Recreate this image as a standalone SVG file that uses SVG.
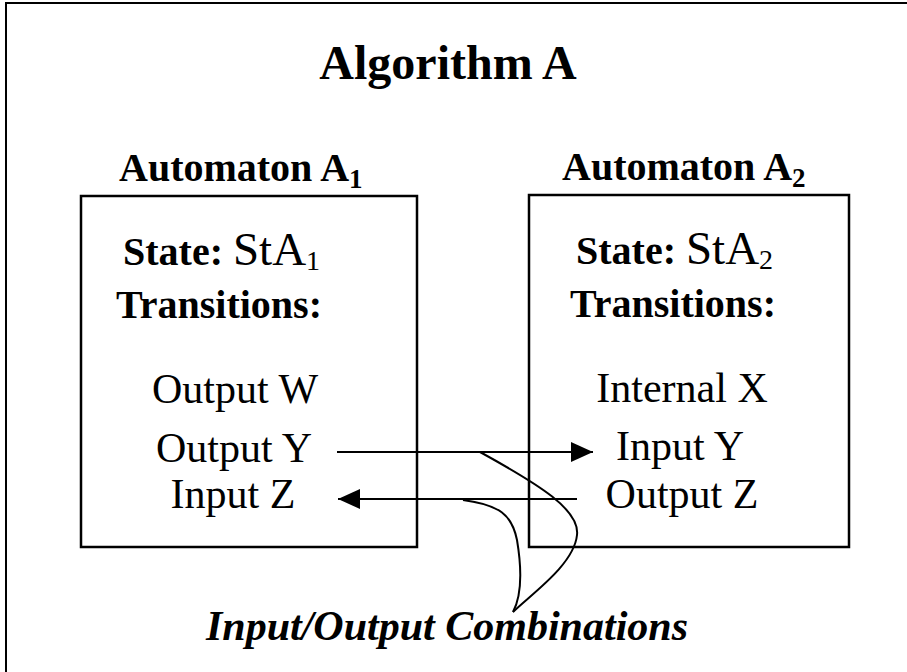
<svg xmlns="http://www.w3.org/2000/svg" width="907" height="672" viewBox="0 0 907 672">
<defs>
<style>
text{font-family:"Liberation Serif","Times New Roman",serif;fill:#000}
.t{font-size:42px;text-anchor:middle}
.lbl{font-size:40px;font-weight:bold}
.box{fill:#fff;stroke:#000;stroke-width:2.5}
.ln{fill:none;stroke:#000;stroke-width:2}
</style>
<marker id="ah" markerWidth="22" markerHeight="20" refX="22" refY="10" orient="auto" markerUnits="userSpaceOnUse">
<path d="M0,0 L22,10 L0,20 Z" fill="#000"/>
</marker>
</defs>
<rect width="907" height="672" fill="#fff"/>
<rect x="6" y="3" width="950" height="720" fill="none" stroke="#000" stroke-width="2"/>
<g id="title">
<text x="448" y="79" style="font-size:48px;font-weight:bold;text-anchor:middle">Algorithm A</text>
</g>
<g id="automatonA1">
<text x="119" y="181" style="font-size:40px;font-weight:bold">Automaton A<tspan dy="7" style="font-size:27px">1</tspan></text>
<rect class="box" x="81" y="196" width="336" height="351"/>
<text x="123" y="265" class="lbl">State: <tspan style="font-weight:normal;font-size:47px">StA</tspan><tspan dy="5" style="font-weight:normal;font-size:28px">1</tspan></text>
<text x="116" y="318" class="lbl">Transitions:</text>
<text x="235" y="403" class="t">Output W</text>
<text x="234" y="462" class="t">Output Y</text>
<text x="233" y="508" class="t">Input Z</text>
</g>
<g id="automatonA2">
<text x="562" y="180" style="font-size:40px;font-weight:bold">Automaton A<tspan dy="7" style="font-size:27px">2</tspan></text>
<rect class="box" x="529" y="195" width="320" height="352"/>
<text x="576" y="264" class="lbl">State: <tspan style="font-weight:normal;font-size:47px">StA</tspan><tspan dy="5" style="font-weight:normal;font-size:28px">2</tspan></text>
<text x="570" y="317" class="lbl">Transitions:</text>
<text x="682" y="402" class="t">Internal X</text>
<text x="680" y="460" class="t">Input Y</text>
<text x="682" y="508" class="t">Output Z</text>
</g>
<g id="connectors">
<line class="ln" x1="337" y1="452" x2="593" y2="452" marker-end="url(#ah)"/>
<line class="ln" x1="577" y1="499" x2="338" y2="499" marker-end="url(#ah)"/>
<path class="ln" d="M480,452 C540,485 580,510 577,535 C574,565 530,595 513,612"/>
<path class="ln" d="M463,500 C500,505 512,515 517,540 C522,570 522,595 513,612"/>
</g>
<g id="caption">
<text x="447" y="640" style="font-size:42px;font-weight:bold;font-style:italic;text-anchor:middle">Input/Output Combinations</text>
</g>
</svg>
